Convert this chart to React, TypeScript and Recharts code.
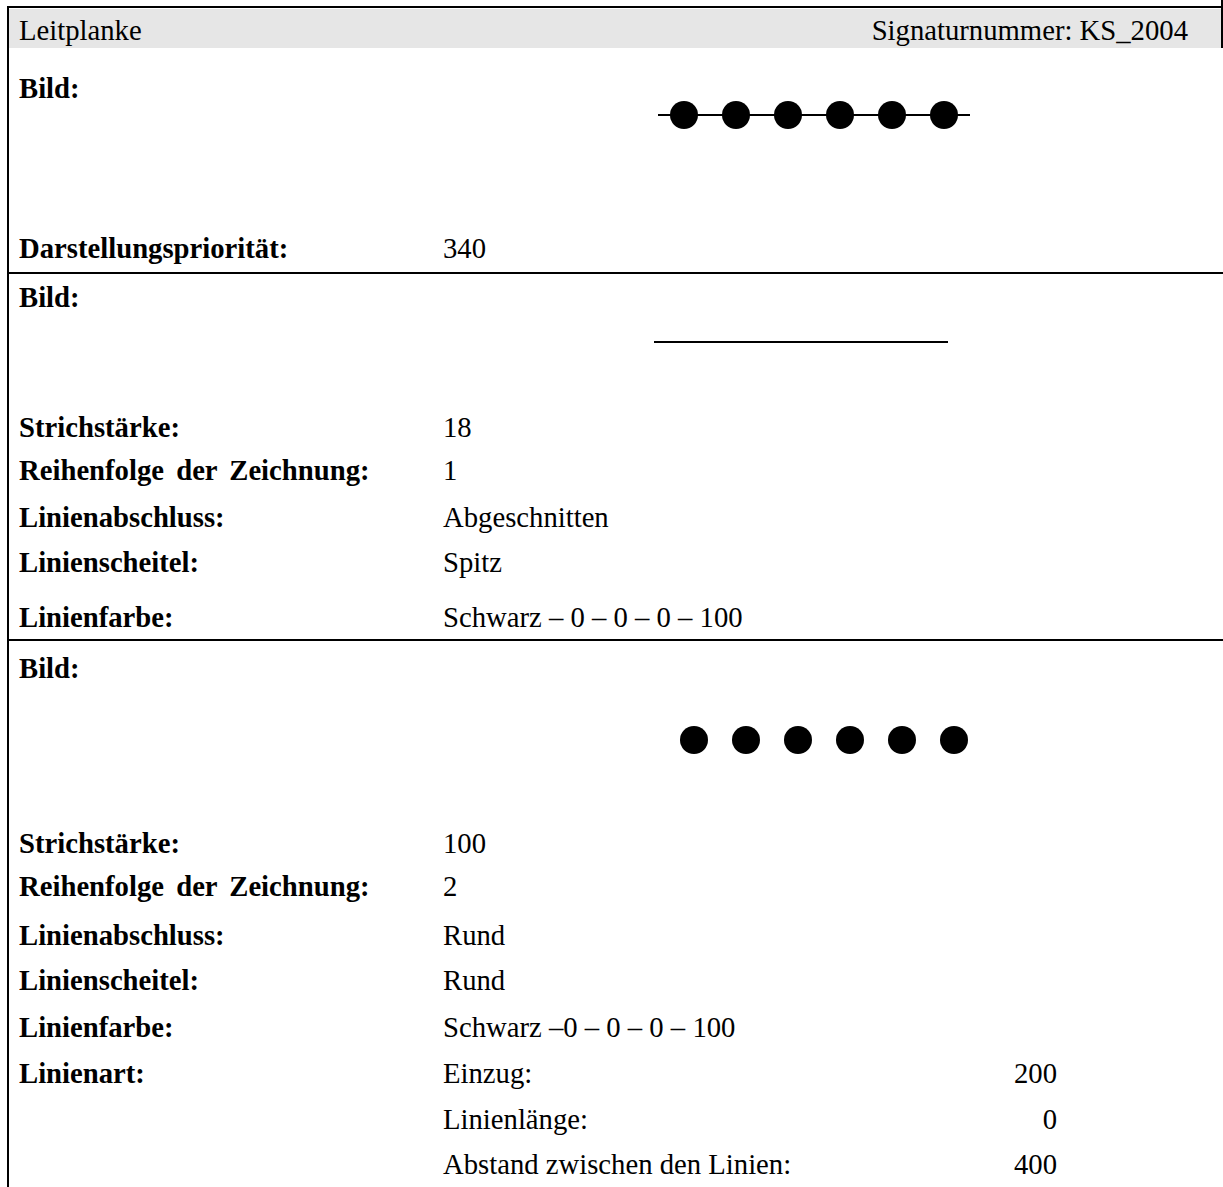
import React from "react";
import { ComposedChart, Line, Scatter, XAxis, YAxis } from "recharts";

// symbol 1: guard rail line with dots on it
const railLine = [
  { x: -0.5, y: 0 },
  { x: 5.5, y: 0 },
];
const railDots = [0, 1, 2, 3, 4, 5].map((x) => ({ x, y: 0 }));

// symbol 2: plain line
const plainLine = [
  { x: 0, y: 0 },
  { x: 1, y: 0 },
];

// symbol 3: dots only
const dotsOnly = [0, 1, 2, 3, 4, 5].map((x) => ({ x, y: 0 }));

const section1 = [
  { label: "Darstellungspriorität:", value: "340", y: 248 },
];

const section2 = [
  { label: "Strichstärke:", value: "18", y: 427 },
  { label: "Reihenfolge der Zeichnung:", value: "1", y: 470 },
  { label: "Linienabschluss:", value: "Abgeschnitten", y: 517 },
  { label: "Linienscheitel:", value: "Spitz", y: 562 },
  { label: "Linienfarbe:", value: "Schwarz – 0 – 0 – 0 – 100", y: 617 },
];

const section3 = [
  { label: "Strichstärke:", value: "100", y: 843 },
  { label: "Reihenfolge der Zeichnung:", value: "2", y: 886 },
  { label: "Linienabschluss:", value: "Rund", y: 935 },
  { label: "Linienscheitel:", value: "Rund", y: 980 },
  { label: "Linienfarbe:", value: "Schwarz –0 – 0 – 0 – 100", y: 1027 },
];

const linienart = [
  { label: "Einzug:", value: "200", y: 1073 },
  { label: "Linienlänge:", value: "0", y: 1119 },
  { label: "Abstand zwischen den Linien:", value: "400", y: 1164 },
];

const bildRows = [88, 297, 668];

const FONT = "'Liberation Serif', 'Times New Roman', serif";
const SIZE = 28.7;
const LH = 32;

function Txt({ x, y, bold, children, right, spacing }: any) {
  const style: React.CSSProperties = {
    position: "absolute",
    top: y - LH / 2,
    lineHeight: LH + "px",
    fontSize: SIZE,
    fontFamily: FONT,
    fontWeight: bold ? "bold" : "normal",
    whiteSpace: "pre",
    wordSpacing: spacing || 0,
    color: "#000",
  };
  if (right) style.right = 1223 - x;
  else style.left = x;
  return <div style={style}>{children}</div>;
}

const dot = (props: any) => <circle cx={props.cx} cy={props.cy} r={14} fill="#000" />;

function Symbol({ left, top, width, line, dots, domain }: any) {
  return (
    <div style={{ position: "absolute", left, top }}>
      <ComposedChart width={width} height={40} margin={{ top: 0, right: 0, bottom: 0, left: 0 }}>
        <XAxis dataKey="x" type="number" domain={domain} hide allowDataOverflow />
        <YAxis dataKey="y" type="number" domain={[-1, 1]} hide />
        {line && (
          <Line
            data={line}
            dataKey="y"
            stroke="#000"
            strokeWidth={2}
            dot={false}
            activeDot={false}
            isAnimationActive={false}
          />
        )}
        {dots && <Scatter data={dots} dataKey="y" shape={dot} isAnimationActive={false} />}
      </ComposedChart>
    </div>
  );
}

export default function App() {
  const rule = (top: number) => (
    <div style={{ position: "absolute", left: 8, top, width: 1215, height: 2, background: "#000" }} />
  );
  return (
    <div style={{ position: "absolute", left: 0, top: 0, width: 1223, height: 1187, background: "#fff", overflow: "hidden" }}>
      <div style={{ position: "absolute", left: 9, top: 9, width: 1212, height: 39, background: "#e6e6e6" }} />
      {rule(6)}
      {rule(272)}
      {rule(639)}
      <div style={{ position: "absolute", left: 7, top: 6, width: 2, height: 1181, background: "#000" }} />
      <div style={{ position: "absolute", left: 1221, top: 0, width: 2, height: 48, background: "#000" }} />

      <Txt x={19} y={30}>Leitplanke</Txt>
      <Txt x={1188} y={30} right>Signaturnummer: KS_2004</Txt>

      {bildRows.map((y) => (
        <Txt key={y} x={19} y={y} bold>Bild:</Txt>
      ))}

      {[...section1, ...section2, ...section3].map((r) => (
        <React.Fragment key={r.y}>
          <Txt x={19} y={r.y} bold spacing={r.label.startsWith("Reihenfolge") ? 5 : 0}>
            {r.label}
          </Txt>
          <Txt x={443} y={r.y}>{r.value}</Txt>
        </React.Fragment>
      ))}
      <Txt x={19} y={1073} bold>Linienart:</Txt>
      {linienart.map((r) => (
        <React.Fragment key={r.y}>
          <Txt x={443} y={r.y}>{r.label}</Txt>
          <Txt x={1057} y={r.y} right>{r.value}</Txt>
        </React.Fragment>
      ))}

      <Symbol left={658} top={95} width={312} line={railLine} dots={railDots} domain={[-0.5, 5.5]} />
      <Symbol left={654} top={322} width={294} line={plainLine} domain={[0, 1]} />
      <Symbol left={668} top={720} width={312} dots={dotsOnly} domain={[-0.5, 5.5]} />
    </div>
  );
}
